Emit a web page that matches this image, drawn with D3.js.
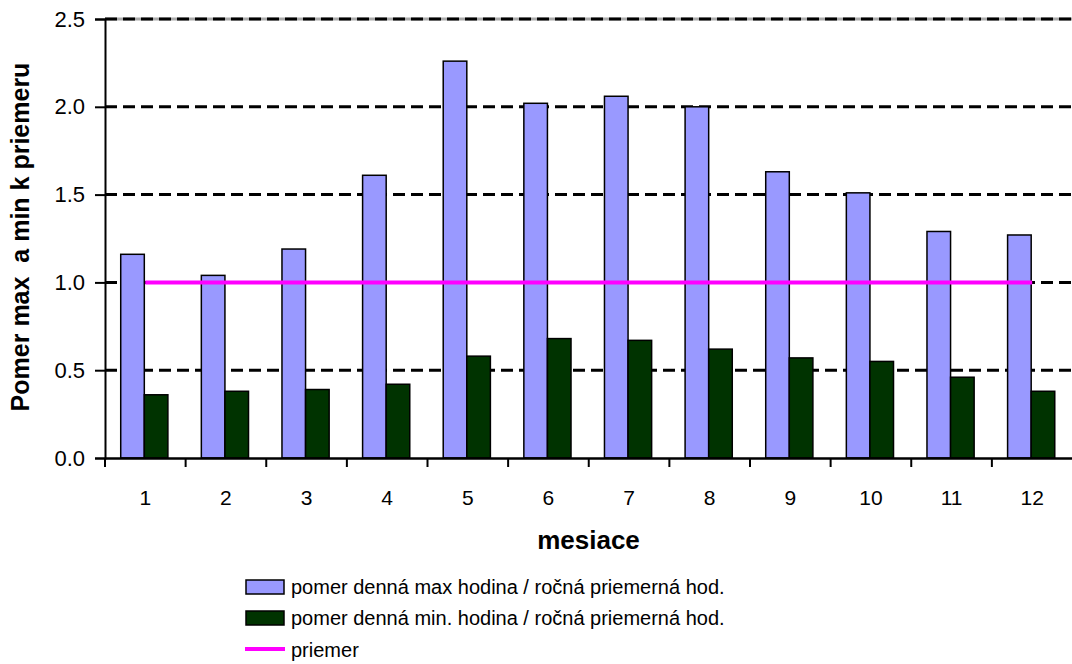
<!DOCTYPE html>
<html>
<head>
<meta charset="utf-8">
<script src="https://cdn.jsdelivr.net/npm/d3@7"></script>
<style>
  html, body { margin: 0; padding: 0; background: #fff; }
  svg { display: block; font-family: "Liberation Sans", Arial, sans-serif; }
</style>
</head>
<body>
<svg id="chart" width="1072" height="664"></svg>
<script>
// Months on the category axis
const months = ["1", "2", "3", "4", "5", "6", "7", "8", "9", "10", "11", "12"];
// Daily max hour / yearly average hour
const maxRatio = [1.16, 1.04, 1.19, 1.61, 2.26, 2.02, 2.06, 2.00, 1.63, 1.51, 1.29, 1.27];
// Daily min hour / yearly average hour
const minRatio = [0.36, 0.38, 0.39, 0.42, 0.58, 0.68, 0.67, 0.62, 0.57, 0.55, 0.46, 0.38];
// Average reference line
const average = [1, 1, 1, 1, 1, 1, 1, 1, 1, 1, 1, 1];
const yTicks = [0, 0.5, 1.0, 1.5, 2.0, 2.5];

const seriesNames = [
  "pomer denná max hodina / ročná priemerná hod.",
  "pomer denná min. hodina / ročná priemerná hod."
];
const seriesColors = ["#9999FF", "#003300"];
const lineName = "priemer";
const lineColor = "#FF00FF";

const svg = d3.select("#chart");
const plotLeft = 105, plotRight = 1072.5, plotTop = 19, plotBottom = 458;

const x = d3.scaleBand().domain(months).range([plotLeft, plotRight]).padding(0);
const bw = x.bandwidth();
const xs = d3.scaleBand().domain([0, 1]).range([bw * 0.195, bw * 0.78]).padding(0);
const y = d3.scaleLinear().domain([0, 2.5]).range([plotBottom, plotTop]);

// plot area top border
svg.append("line")
  .attr("x1", plotLeft).attr("x2", 1072).attr("y1", y(2.5)).attr("y2", y(2.5))
  .attr("stroke", "#aaa").attr("stroke-width", 3);

// dashed horizontal gridlines
svg.append("g").selectAll("line")
  .data(yTicks.filter(d => d > 0))
  .join("line")
  .attr("x1", plotLeft).attr("x2", 1072)
  .attr("y1", d => y(d)).attr("y2", d => y(d))
  .attr("stroke", "#000").attr("stroke-width", 3)
  .attr("stroke-dasharray", "12,6");

// grouped bars
const rows = months.map((m, i) => ({ m, vals: [maxRatio[i], minRatio[i]] }));
const groups = svg.append("g").selectAll("g")
  .data(rows).join("g")
  .attr("transform", d => `translate(${x(d.m)},0)`);
groups.selectAll("rect")
  .data(d => d.vals.map((v, k) => ({ v, k })))
  .join("rect")
  .attr("x", d => xs(d.k))
  .attr("width", xs.bandwidth())
  .attr("y", d => y(d.v))
  .attr("height", d => y(0) - y(d.v))
  .attr("fill", d => seriesColors[d.k])
  .attr("stroke", "#000").attr("stroke-width", 1.5);

// average line
const line = d3.line()
  .x((d, i) => x(months[i]) + bw / 2)
  .y(d => y(d));
svg.append("path")
  .datum(average)
  .attr("d", line)
  .attr("fill", "none")
  .attr("stroke", lineColor)
  .attr("stroke-width", 4);

// y axis
const yAxis = svg.append("g")
  .attr("transform", `translate(${plotLeft},0)`)
  .call(d3.axisLeft(y).tickValues(yTicks).tickFormat(d3.format(".1f")).tickSize(10).tickPadding(10));
yAxis.select(".domain").attr("stroke-width", 2);
yAxis.selectAll(".tick line").attr("stroke-width", 2);
yAxis.selectAll("text").attr("font-size", 22).attr("fill", "#000")
  .attr("font-family", "Liberation Sans, Arial, sans-serif");

// x axis: labels centred in bands, tick marks on band boundaries
const xAxis = svg.append("g")
  .attr("transform", `translate(0,${plotBottom})`)
  .call(d3.axisBottom(x).tickSize(0).tickPadding(32));
xAxis.select(".domain").attr("stroke-width", 2.5);
xAxis.selectAll("text").attr("font-size", 21).attr("fill", "#000")
  .attr("font-family", "Liberation Sans, Arial, sans-serif");
svg.append("g").selectAll("line")
  .data(months)
  .join("line")
  .attr("x1", d => x(d)).attr("x2", d => x(d))
  .attr("y1", plotBottom).attr("y2", plotBottom + 9)
  .attr("stroke", "#000").attr("stroke-width", 2);

// axis titles
svg.append("text")
  .attr("x", (plotLeft + 1072) / 2).attr("y", 549)
  .attr("text-anchor", "middle")
  .attr("font-size", 26).attr("font-weight", "bold")
  .text("mesiace");
svg.append("text")
  .attr("transform", "translate(29,237) rotate(-90)")
  .attr("text-anchor", "middle")
  .attr("font-size", 25).attr("font-weight", "bold")
  .style("white-space", "pre")
  .text("Pomer max  a min k priemeru");

// legend
const legend = svg.append("g");
seriesNames.forEach((name, k) => {
  const cy = 587 + k * 31;
  legend.append("rect")
    .attr("x", 246).attr("y", cy - 7).attr("width", 38).attr("height", 14)
    .attr("fill", seriesColors[k]).attr("stroke", "#000").attr("stroke-width", 1.5);
  legend.append("text")
    .attr("x", 291).attr("y", cy).attr("dy", "0.35em")
    .attr("font-size", 20).text(name);
});
legend.append("line")
  .attr("x1", 245).attr("x2", 285).attr("y1", 649).attr("y2", 649)
  .attr("stroke", lineColor).attr("stroke-width", 4);
legend.append("text")
  .attr("x", 291).attr("y", 650).attr("dy", "0.35em")
  .attr("font-size", 20).text(lineName);
</script>
</body>
</html>
